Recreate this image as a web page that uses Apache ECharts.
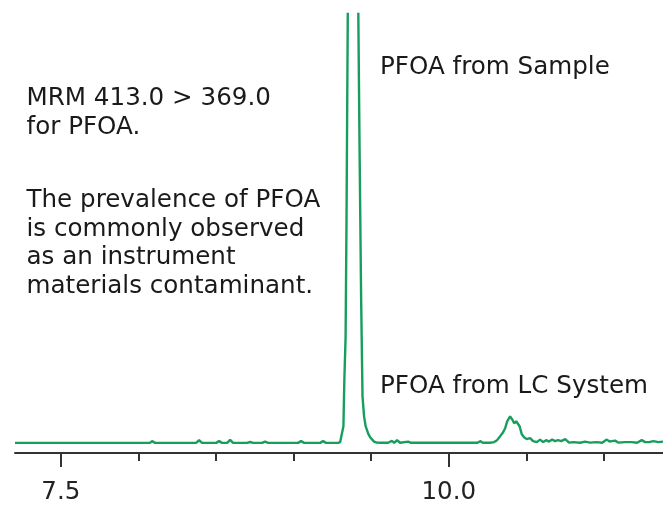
<!DOCTYPE html>
<html>
<head>
<meta charset="utf-8">
<script src="https://cdn.jsdelivr.net/npm/echarts@6/dist/echarts.min.js"></script>
<style>
  html, body { margin: 0; padding: 0; background: #fff; }
  #chart { width: 663px; height: 505px; }
</style>
</head>
<body>
<div id="chart"></div>
<script>
// retention time (min) and signal (% of plotted range)
var time = [
  7.205, 8.075, 8.088, 8.108, 8.372, 8.391, 8.410, 8.501, 8.520, 8.539,
  8.572, 8.591, 8.610, 8.700, 8.720, 8.739, 8.797, 8.816, 8.836, 9.029,
  9.048, 9.068, 9.171, 9.190, 9.209, 9.287, 9.300, 9.311, 9.321, 9.327,
  9.335, 9.341, 9.349, 9.358, 9.367, 9.380, 9.386, 9.396, 9.406, 9.417,
  9.425, 9.435, 9.444, 9.454, 9.464, 9.473, 9.482, 9.493, 9.504, 9.518,
  9.536, 9.557, 9.609, 9.633, 9.648, 9.667, 9.686, 9.738, 9.757, 10.185,
  10.202, 10.220, 10.266, 10.292, 10.311, 10.331, 10.350, 10.363, 10.376, 10.395,
  10.408, 10.421, 10.434, 10.445, 10.456, 10.470, 10.485, 10.502, 10.524, 10.543,
  10.567, 10.588, 10.608, 10.627, 10.646, 10.666, 10.685, 10.704, 10.724, 10.750,
  10.775, 10.801, 10.846, 10.878, 10.910, 10.953, 10.988, 11.018, 11.036, 11.050,
  11.071, 11.091, 11.136, 11.179, 11.213, 11.243, 11.265, 11.291, 11.318, 11.350,
  11.380
];
var signal = [
  2.3, 2.3, 2.7, 2.3, 2.3, 2.9, 2.3, 2.3, 2.7, 2.3,
  2.3, 3.0, 2.3, 2.3, 2.5, 2.3, 2.3, 2.6, 2.3, 2.3,
  2.7, 2.3, 2.3, 2.7, 2.3, 2.3, 2.48, 2.71, 6.1, 16.7,
  26.4, 53.5, 99.8, 150, 200, 232, 235, 215, 165, 99.8,
  69.3, 35.4, 12.9, 8.35, 6.1, 5.2, 4.29, 3.6, 3.16, 2.6,
  2.37, 2.33, 2.33, 2.75, 2.33, 2.9, 2.33, 2.6, 2.33, 2.33,
  2.7, 2.33, 2.33, 2.48, 2.93, 3.84, 4.74, 5.64, 7.22, 8.35,
  7.67, 6.77, 7.22, 7.45, 6.1, 4.29, 3.6, 3.16, 3.39, 2.71,
  2.48, 3.05, 2.48, 2.93, 2.6, 3.05, 2.71, 2.93, 2.71, 3.16,
  2.37, 2.48, 2.33, 2.6, 2.37, 2.48, 2.33, 3.05, 2.6, 2.71,
  2.82, 2.37, 2.48, 2.48, 2.33, 2.93, 2.48, 2.48, 2.71, 2.48,
  2.6
];
var minorTicks = [7.5, 8.0, 8.5, 9.0, 9.5, 10.0, 10.5, 11.0];
var majorTicks = [7.5, 10.0];

var notes = [
  ['MRM 413.0 > 369.0', 26.5, 99],
  ['for PFOA.', 26.5, 127.5],
  ['The prevalence of PFOA', 26.5, 201],
  ['is commonly observed', 26.5, 229.4],
  ['as an instrument', 26.5, 257.7],
  ['materials contaminant.', 26.5, 286.2],
  ['PFOA from Sample', 380, 68],
  ['PFOA from LC System', 380, 386.5]
];

var FONT = '"DejaVu Sans", Verdana, sans-serif';
var AXIS_COLOR = '#333';

var points = time.map(function (t, i) { return [t, signal[i]]; });

var chart = echarts.init(document.getElementById('chart'));

var option = {
  animation: false,
  grid: { left: 15, right: 0, top: 14, bottom: 48 },
  xAxis: [
    {
      type: 'value',
      min: 7.205,
      max: 11.38,
      axisLine: { show: true, lineStyle: { color: AXIS_COLOR, width: 2 } },
      axisTick: {
        show: true,
        customValues: minorTicks,
        length: 8,
        lineStyle: { color: AXIS_COLOR, width: 2 }
      },
      axisLabel: { show: false },
      splitLine: { show: false }
    },
    {
      type: 'value',
      position: 'bottom',
      min: 7.205,
      max: 11.38,
      axisLine: { show: false },
      axisTick: {
        show: true,
        customValues: majorTicks,
        length: 14,
        lineStyle: { color: AXIS_COLOR, width: 2 }
      },
      axisLabel: {
        show: true,
        customValues: majorTicks,
        margin: 27,
        fontFamily: FONT,
        fontSize: 24.5,
        color: '#222',
        formatter: function (v) { return Number(v).toFixed(1); }
      },
      splitLine: { show: false }
    }
  ],
  yAxis: {
    type: 'value',
    min: 0,
    max: 100,
    show: false,
    splitLine: { show: false }
  },
  series: [
    {
      type: 'line',
      xAxisIndex: 0,
      data: points,
      showSymbol: false,
      clip: true,
      lineStyle: { color: '#179e5d', width: 2.4 }
    }
  ],
  graphic: notes.map(function (n) {
    return {
      type: 'text',
      x: n[1],
      y: n[2],
      style: {
        text: n[0],
        font: '24.6px ' + FONT,
        fill: '#1a1a1a',
        verticalAlign: 'middle'
      }
    };
  })
};

chart.setOption(option);
</script>
</body>
</html>
